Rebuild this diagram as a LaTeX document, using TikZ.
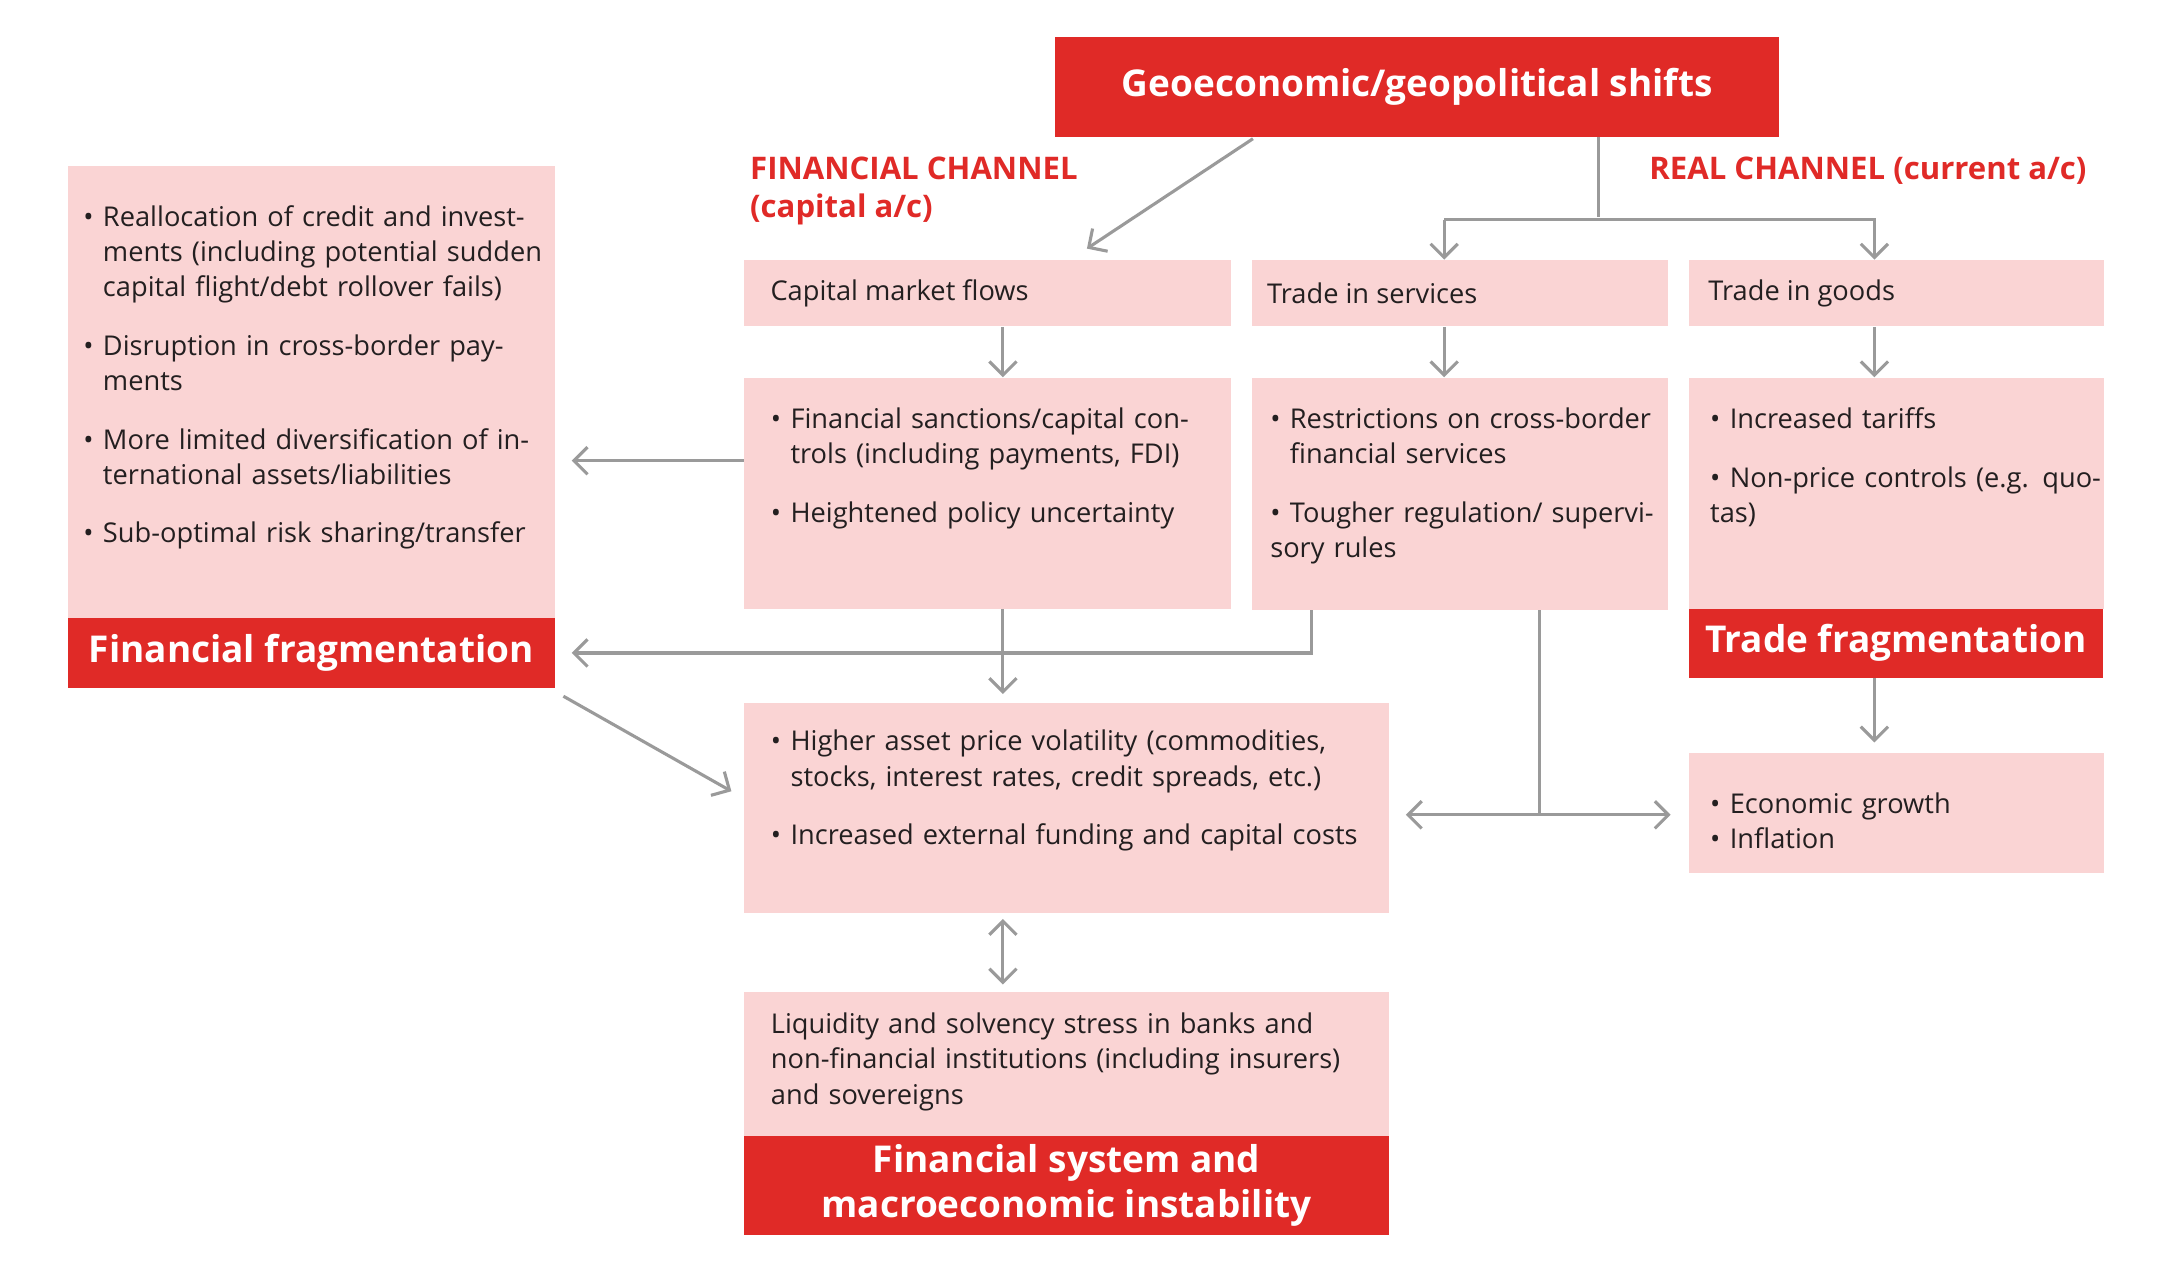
\documentclass[tikz,border=0pt]{standalone}
\usepackage{fontspec}
\setmainfont{Open Sans}
\usetikzlibrary{positioning,calc,fit,arrows.meta}
\definecolor{ecbred}{HTML}{E02A27}
\definecolor{ecbpink}{HTML}{FAD4D4}
\definecolor{linegray}{HTML}{9A9A9A}
\definecolor{ink}{HTML}{231F20}
\newcommand\itm[1]{\par\hangindent=0.72em\hangafter=1\noindent\makebox[0.72em][l]{\textbullet}#1}
\newcommand\gap{\par\vspace{12pt}}

\begin{document}
\begin{tikzpicture}[x=0.025cm, y=-0.025cm,
    pinkbox/.style={fill=ecbpink, inner sep=0pt},
    redbox/.style={fill=ecbred, inner sep=0pt, text=white, font=\fontsize{19}{23}\selectfont\bfseries, align=center},
    txt/.style={anchor=north west, inner sep=0pt, text=ink, align=left, font=\fontsize{14}{18.1}\selectfont},
    chan/.style={anchor=north west, inner sep=0pt, text=ecbred, align=left, font=\fontsize{16}{19.5}\selectfont\bfseries},
    arr/.style={draw=linegray, line width=1.6pt, -{Straight Barb[length=7pt,width=14pt]}},
    dbl/.style={draw=linegray, line width=1.6pt, {Straight Barb[length=7pt,width=14pt]}-{Straight Barb[length=7pt,width=14pt]}},
    ln/.style={draw=linegray, line width=1.6pt}]
    \useasboundingbox (0,0) rectangle (1560,915);

    % Top box and channel labels
    \node[redbox, fit={(763,27)(1286,99)}] (geo) {};
    \node[redbox] at (geo.center) {Geoeconomic/geopolitical shifts};
    \node[chan] (finchan) at (542,113) {FINANCIAL CHANNEL\\(capital a/c)};
    \node[chan] (realchan) at (1192,113) {REAL CHANNEL (current a/c)};

    % Left column
    \node[pinkbox, fit={(49,120)(401,447)}] (left) {};
    \node[redbox, fit={(49,447)(401,497)}] (finfrag) {};
    \node[redbox] at (finfrag.center) {Financial fragmentation};
    \node[txt, text width=340*0.711pt] (lefttxt) at (60,138) {%
        \itm{Reallocation of credit and investments (including potential sudden capital flight/debt rollover fails)}\gap
        \itm{Disruption in cross-border payments}\gap
        \itm{More limited diversification of international assets/liabilities}\gap
        \itm{Sub-optimal risk sharing/transfer}};

    % Channel heads
    \node[pinkbox, fit={(538,188)(890,236)}] (cap) {};
    \node[txt, anchor=west] at ($(cap.west)+(19,0)$) {Capital market flows};
    \node[pinkbox, fit={(905,188)(1206,236)}] (serv) {};
    \node[txt, anchor=west] at ($(serv.west)+(11,0)$) {Trade in services};
    \node[pinkbox, fit={(1221,188)(1521,236)}] (goods) {};
    \node[txt, anchor=west] at ($(goods.west)+(14,0)$) {Trade in goods};

    % Measures
    \node[pinkbox, fit={(538,273)(890,440)}] (sanc) {};
    \node[txt, text width=332*0.711pt] at (557,284) {%
        \itm{Financial sanctions/capital controls (including payments, FDI)}\gap
        \itm{Heightened policy uncertainty}};
    \node[pinkbox, fit={(905,273)(1206,441)}] (restr) {};
    \node[txt, text width=295*0.711pt] at (918,284) {%
        \itm{Restrictions on cross-border financial services}\gap
        \itm{Tougher regulation/ supervisory rules}};
    \node[pinkbox, fit={(1221,273)(1521,440)}] (tariff) {};
    \node[redbox, fit={(1221,440)(1520,490)}] (tradefrag) {};
    \node[redbox] at (tradefrag.center) {Trade fragmentation};
    \node[txt, text width=285*0.711pt] at (1236,284) {%
        \itm{Increased tariffs}\gap
        \itm{Non-price controls (e.g. quotas)}};

    % Effects
    \node[pinkbox, fit={(538,508)(1004,660)}] (asset) {};
    \node[txt, text width=460*0.711pt] at (557,517) {%
        \itm{Higher asset price volatility (commodities, stocks, interest rates, credit spreads, etc.)}\gap
        \itm{Increased external funding and capital costs}};
    \node[pinkbox, fit={(1221,544)(1521,631)}] (growth) {};
    \node[txt, text width=285*0.711pt] at (1236,562) {%
        \itm{Economic growth}
        \itm{Inflation}};
    \node[pinkbox, fit={(538,717)(1004,821)}] (liq) {};
    \node[txt, text width=440*0.711pt] at (557,732) {Liquidity and solvency stress in banks and non-financial institutions (including insurers) and sovereigns};
    \node[redbox, fit={(538,821)(1004,893)}] (instab) {};
    \node[redbox] at (instab.center) {Financial system and\\macroeconomic instability};

    % Connectors
    \draw[arr] ($(geo.south west)+(143,1)$) -- ($(cap.north west)+(248,-8)$);
    \draw[ln] ($(geo.south west)+(393,0)$) coordinate (split) -- (split |- 0,157) coordinate (splitb);
    \draw[arr] (serv.north -| 1044,0) ++(0,-29) coordinate (sl) -- (sl |- serv.north);
    \draw[arr] (sl) -- (sl -| 1355,0) coordinate (sr) -- (sr |- goods.north);
    \draw[arr] (cap.south -| 725,0) -- (sanc.north -| 725,0);
    \draw[arr] (serv.south -| 1044,0) -- (restr.north -| 1044,0);
    \draw[arr] (goods.south -| 1355,0) -- (tariff.north -| 1355,0);
    \draw[arr] (sanc.west |- 0,333) -- ($(left.east |- 0,333)+(12,0)$);
    \draw[arr] (sanc.south -| 725,0) -- ($(asset.north -| 725,0)+(0,-6)$);
    \draw[arr] (restr.south -| 948,0) -- (948,472) -- ($(finfrag.east |- 0,472)+(12,0)$);
    \draw[arr] ($(finfrag.south east)+(6,6)$) -- ($(asset.west |- 0,572)+(-9,0)$);
    \draw[ln] (restr.south -| 1113,0) -- (1113,589) coordinate (fork);
    \draw[arr] (fork) -- ($(asset.east |- fork)+(12,0)$);
    \draw[arr] (fork) -- ($(growth.west |- fork)+(-13,0)$);
    \draw[arr] (tradefrag.south -| 1355,0) -- ($(growth.north -| 1355,0)+(0,-7)$);
    \draw[dbl] ($(asset.south -| 725,0)+(0,4)$) -- ($(liq.north -| 725,0)+(0,-5)$);
\end{tikzpicture}
\end{document}
